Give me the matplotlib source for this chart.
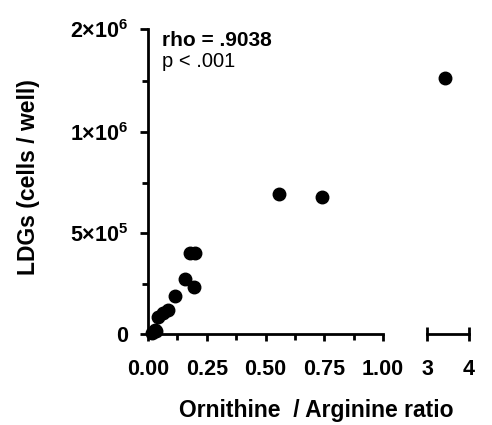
import numpy as np
import matplotlib
matplotlib.use("Agg")
import matplotlib.pyplot as plt
from matplotlib.ticker import FixedLocator

plt.rcParams['font.family'] = ['Liberation Sans', 'DejaVu Sans']
plt.rcParams['mathtext.fontset'] = 'custom'
plt.rcParams['mathtext.rm'] = 'Liberation Sans'
plt.rcParams['mathtext.bf'] = 'Liberation Sans:bold'

# ornithine / arginine ratio vs LDG count
ratio = np.array([3.43, 0.557, 0.740, 0.179, 0.200, 0.157, 0.196, 0.115,
                  0.084, 0.064, 0.043, 0.030, 0.017, 0.035])
ldgs = np.array([1.52e6, 6.93e5, 6.78e5, 4.0e5, 4.0e5, 2.72e5, 2.33e5, 1.88e5,
                 1.19e5, 1.04e5, 0.84e5, 0.2e5, 0.05e5, 0.15e5])

x_ticks_low = [0.0, 0.25, 0.5, 0.75, 1.0]
x_labels_low = ['0.00', '0.25', '0.50', '0.75', '1.00']
x_ticks_high = [3, 4]
y_ticks = [0, 5e5, 1e6, 2e6]
y_labels = ['0', r'$\mathbf{5{\times}10^5}$', r'$\mathbf{1{\times}10^6}$',
            r'$\mathbf{2{\times}10^6}$']
y_minor = [2.5e5, 7.5e5, 1.5e6]


# y axis: linear up to 1e6, compressed above
def fwd(y):
    y = np.asarray(y, dtype=float)
    return np.where(y <= 1e6, y, 1e6 + (y - 1e6) * 0.51)


def inv(y):
    y = np.asarray(y, dtype=float)
    return np.where(y <= 1e6, y, 1e6 + (y - 1e6) / 0.51)


W, H = 492, 425
fig = plt.figure(figsize=(W / 100, H / 100), dpi=100)
bottom = 1 - 334 / H
height = (334 - 29) / H
ax1 = fig.add_axes([148 / W, bottom, (383 - 148) / W, height])
ax2 = fig.add_axes([427 / W, bottom, (469 - 427) / W, height], sharey=ax1)

low = ratio <= 1
for ax, m in ((ax1, low), (ax2, ~low)):
    ax.set_yscale('function', functions=(fwd, inv))
    ax.set_ylim(0, 2e6)
    for s in ('top', 'right'):
        ax.spines[s].set_visible(False)
    for s in ('left', 'bottom'):
        ax.spines[s].set_linewidth(2)
    ax.plot(ratio[m], ldgs[m], 'o', color='black', markersize=9, clip_on=False)
    ax.tick_params(axis='x', which='major', direction='out', length=5,
                   width=2, pad=13)
    ax.tick_params(axis='x', which='minor', direction='out', length=4, width=2)

ax1.set_xlim(0, 1)
ax1.xaxis.set_major_locator(FixedLocator(x_ticks_low))
ax1.set_xticklabels(x_labels_low, fontweight='bold', fontsize=15.5)
ax1.xaxis.set_minor_locator(FixedLocator([0.125, 0.375, 0.625, 0.875]))
ax1.yaxis.set_major_locator(FixedLocator(y_ticks))
ax1.set_yticklabels(y_labels, fontweight='bold', fontsize=15.5)
ax1.yaxis.set_minor_locator(FixedLocator(y_minor))
ax1.tick_params(axis='y', which='major', direction='out', length=6, width=2, pad=8)
ax1.tick_params(axis='y', which='minor', direction='out', length=4, width=2)

ax2.set_xlim(3, 4)
ax2.xaxis.set_major_locator(FixedLocator(x_ticks_high))
ax2.set_xticklabels([str(t) for t in x_ticks_high], fontweight='bold', fontsize=15.5)
ax2.tick_params(axis='x', which='major', direction='inout', length=10)
ax2.spines['left'].set_visible(False)
ax2.tick_params(axis='y', which='both', left=False, labelleft=False)

fig.text(29 / W, 1 - 177 / H, 'LDGs (cells / well)', rotation=90,
         ha='center', va='center', fontsize=16.5, fontweight='bold')
fig.text(316 / W, 1 - 410 / H, 'Ornithine  / Arginine ratio',
         ha='center', va='center', fontsize=16.5, fontweight='bold')
fig.text(162 / W, 1 - 46 / H, 'rho = .9038', ha='left', va='baseline',
         fontsize=15, fontweight='bold')
fig.text(162 / W, 1 - 67 / H, 'p < .001', ha='left', va='baseline',
         fontsize=14.5)

fig.savefig('out.png', dpi=100)
